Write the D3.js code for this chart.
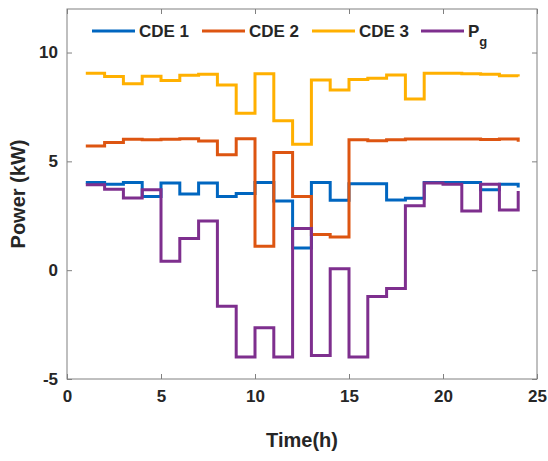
<!DOCTYPE html>
<html>
<head>
<meta charset="utf-8">
<script src="https://cdn.jsdelivr.net/npm/d3@7"></script>
<style>
  body { margin: 0; background: #fff; }
  text { font-family: "Liberation Sans", Arial, sans-serif; font-weight: bold; fill: #262626; }
</style>
</head>
<body>
<div id="chart"></div>
<script>
// hourly values
const hours = [1, 2, 3, 4, 5, 6, 7, 8, 9, 10, 11, 12, 13, 14, 15, 16, 17, 18, 19, 20, 21, 22, 23, 24]
const cde1 = [4.03, 3.95, 4.03, 3.38, 4.0, 3.5, 4.0, 3.39, 3.52, 4.03, 3.18, 1.02, 4.03, 3.21, 3.97, 3.97, 3.23, 3.3, 4.03, 4.03, 4.03, 3.69, 3.95, 3.8]
const cde2 = [5.71, 5.87, 6.02, 5.99, 6.02, 6.04, 5.93, 5.3, 6.04, 1.1, 5.41, 3.38, 1.64, 1.52, 5.99, 5.95, 5.99, 6.03, 6.03, 6.03, 6.03, 6.0, 6.03, 5.9]
const cde3 = [9.05, 8.9, 8.57, 8.91, 8.71, 8.96, 9.0, 8.51, 7.21, 9.03, 6.87, 5.79, 8.74, 8.28, 8.76, 8.82, 8.97, 7.87, 9.05, 9.05, 9.03, 9.0, 8.93, 8.9]
const pg = [3.92, 3.72, 3.32, 3.7, 0.41, 1.46, 2.26, -1.66, -3.99, -2.65, -3.99, 1.92, -3.92, 0.06, -3.99, -1.21, -0.84, 2.96, 4.0, 3.95, 2.72, 3.95, 2.77, 3.64]

const xTicks = [0, 5, 10, 15, 20, 25]
const yTicks = [-5, 0, 5, 10]

const series = [
    { name: "CDE 1", values: cde1, color: "#0066C0" },
    { name: "CDE 2", values: cde2, color: "#DD5511" },
    { name: "CDE 3", values: cde3, color: "#FFB000" },
    { name: "P", sub: "g", values: pg, color: "#7E2F8E" }
]

const width = 548, height = 461
const margin = { top: 9, right: 11, bottom: 82, left: 67 }
const w = width - margin.left - margin.right
const h = height - margin.top - margin.bottom

const svg = d3.select("#chart")
    .append("svg")
    .attr("width", width)
    .attr("height", height)

const g = svg.append("g")
    .attr("transform", `translate(${margin.left},${margin.top})`)

const x = d3.scaleLinear().domain([0, 25]).range([0, w])
const y = d3.scaleLinear().domain([-5, 12]).range([h, 0])

// axes: ticks pointing inwards, mirrored on the box
const axisColor = "#808080"
const plain = d => String(d)  // keep the ascii minus like the original
function styleAxis(sel) {
    sel.select(".domain").remove()
    sel.selectAll(".tick line").attr("stroke", axisColor)
    sel.selectAll(".tick text").style("font-size", "17px").attr("fill", "#262626")
}

g.append("g")
    .attr("transform", `translate(0,${h})`)
    .call(d3.axisBottom(x).tickValues(xTicks).tickSize(-5).tickPadding(11).tickFormat(plain))
    .call(styleAxis)

g.append("g")
    .call(d3.axisTop(x).tickValues(xTicks).tickSize(-5).tickFormat(""))
    .call(styleAxis)

g.append("g")
    .call(d3.axisLeft(y).tickValues(yTicks).tickSize(-5).tickPadding(9).tickFormat(plain))
    .call(styleAxis)

g.append("g")
    .attr("transform", `translate(${w},0)`)
    .call(d3.axisRight(y).tickValues(yTicks).tickSize(-5).tickFormat(""))
    .call(styleAxis)

g.append("rect")
    .attr("width", w)
    .attr("height", h)
    .attr("fill", "none")
    .attr("stroke", axisColor)
    .attr("stroke-width", 1)

// stairs
const line = d3.line()
    .curve(d3.curveStepAfter)
    .x((d, i) => x(hours[i]))
    .y(d => y(d))

g.selectAll("path.series")
    .data(series)
    .join("path")
    .attr("class", "series")
    .attr("d", d => line(d.values))
    .attr("fill", "none")
    .attr("stroke", d => d.color)
    .attr("stroke-width", 3)

// legend
const legendX = [25, 135, 245, 354]
const leg = g.selectAll("g.legend")
    .data(series)
    .join("g")
    .attr("class", "legend")
    .attr("transform", (d, i) => `translate(${legendX[i]},22)`)

leg.append("line")
    .attr("x1", 0).attr("x2", 43)
    .attr("stroke", d => d.color)
    .attr("stroke-width", 3)

const lt = leg.append("text")
    .attr("x", 47)
    .attr("y", 6)
    .style("font-size", "17px")
    .attr("fill", "#000")
    .text(d => d.name)

lt.filter(d => d.sub)
    .append("tspan")
    .attr("dy", 9)
    .style("font-size", "13px")
    .text(d => d.sub)

// axis titles
svg.append("text")
    .attr("x", margin.left + w / 2)
    .attr("y", 447)
    .attr("text-anchor", "middle")
    .style("font-size", "20px")
    .attr("fill", "#000")
    .text("Time(h)")

svg.append("text")
    .attr("transform", `translate(25,${margin.top + h / 2}) rotate(-90)`)
    .attr("text-anchor", "middle")
    .style("font-size", "20px")
    .attr("fill", "#000")
    .text("Power (kW)")
</script>
</body>
</html>
